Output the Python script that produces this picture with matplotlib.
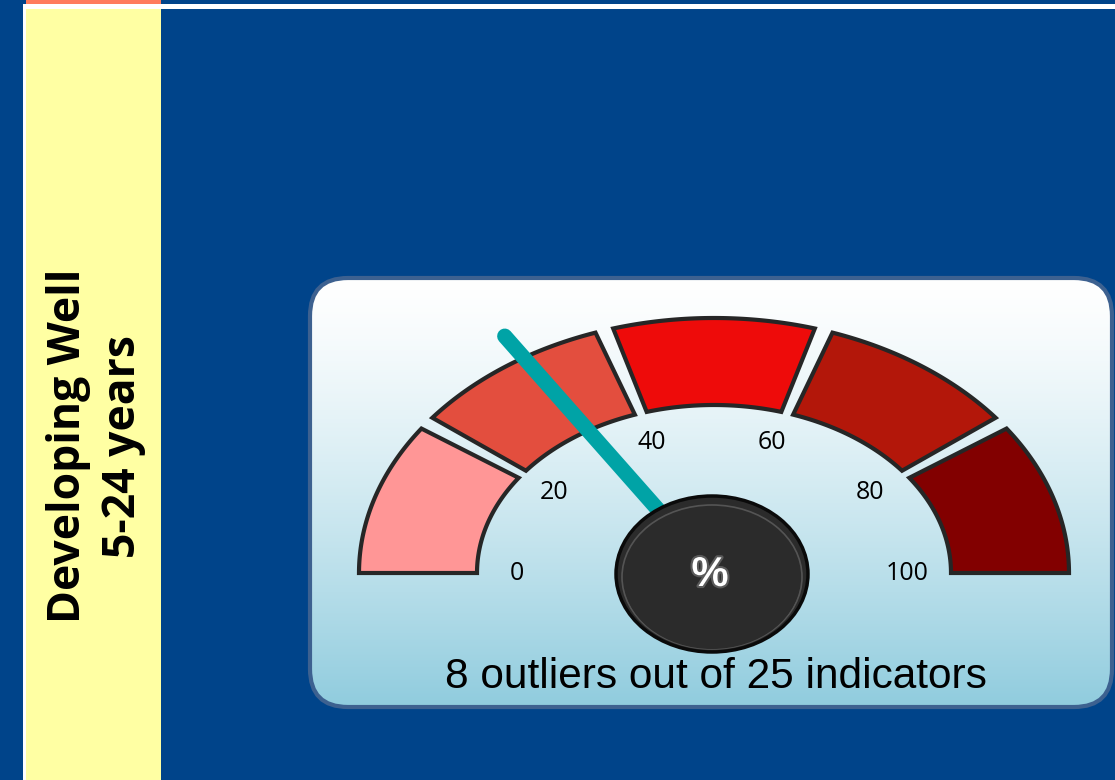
import numpy as np
import matplotlib
matplotlib.use("Agg")
import matplotlib.pyplot as plt
from matplotlib.patches import Polygon, Ellipse, FancyBboxPatch, Rectangle
import matplotlib.patheffects as pe

# data
outliers = 8
indicators = 25
band_edges = [0, 20, 40, 60, 80, 100]
band_colors = ['#FF9696', '#E34E3E', '#EE0B0A', '#B3170A', '#820000']
tick_values = [0, 20, 40, 60, 80, 100]
side_title = "Developing Well\n5-24 years"
caption = f"{outliers} outliers out of {indicators} indicators"

BLUE = '#00448A'
W, H = 1115, 780

fig = plt.figure(figsize=(W / 100, H / 100), dpi=100)
fig.patch.set_facecolor(BLUE)
ax = fig.add_axes([0, 0, 1, 1])
ax.set_facecolor(BLUE)

# frame strips
ax.add_patch(Rectangle((23, 4), W - 23, 5, color='white', lw=0))
ax.add_patch(Rectangle((23, 4), 3, H - 4, color='white', lw=0))
ax.add_patch(Rectangle((26, 0), 135, 4, color='#FF7B5C', lw=0))
ax.add_patch(Rectangle((26, 9), 135, H - 9, color='#FFFFA3', lw=0))
ax.text(96, 446, side_title, rotation=90, ha='center', va='center',
        multialignment='center', fontsize=32, fontweight='bold',
        family='Open Sans', color='black', linespacing=1.3)

# panel with gradient
px0, py0, px1, py1 = 310, 278, 1112, 707
panel = FancyBboxPatch((px0, py0), px1 - px0, py1 - py0,
                       boxstyle="round,pad=0,rounding_size=38",
                       fc='none', ec='#3D6190', lw=3, zorder=3)
ax.add_patch(panel)
top = np.array([1.0, 1.0, 1.0])
bot = np.array([0x90, 0xCC, 0xDE]) / 255
t = np.linspace(0, 1, 256)[:, None]
grad = (top[None, :] * (1 - t ** 1.3) + bot[None, :] * t ** 1.3)[:, None, :]
im = ax.imshow(grad, extent=(px0, px1, py1, py0), aspect='auto', zorder=2,
               interpolation='bilinear')
im.set_clip_path(panel)

# gauge
cx, cy = 714, 573
rx_out, ry_out = 355, 255
rx_in, ry_in = 237, 168
gap = np.radians(1.5)


def ang(v):
    return np.pi * (1 - v / 100)


for lo, hi, col in zip(band_edges[:-1], band_edges[1:], band_colors):
    a0 = ang(hi) + (gap if hi < 100 else 0)
    a1 = ang(lo) - (gap if lo > 0 else 0)
    th = np.linspace(a0, a1, 80)
    xo = cx + rx_out * np.cos(th)
    yo = cy - ry_out * np.sin(th)
    xi = cx + rx_in * np.cos(th[::-1])
    yi = cy - ry_in * np.sin(th[::-1])
    pts = np.column_stack([np.r_[xo, xi], np.r_[yo, yi]])
    ax.add_patch(Polygon(pts, closed=True, fc=col, ec='#262626', lw=3,
                         joinstyle='miter', zorder=4))

for v in tick_values:
    a = ang(v)
    ax.text(cx - 2 + 195 * np.cos(a), cy - 137 * np.sin(a), str(v),
            ha='center', va='center', fontsize=18, family='Open Sans',
            color='black', zorder=5)

# needle
pct = outliers / indicators * 100
a = ang(pct)
ax.plot([cx, cx + 1.1 * rx_out * np.cos(a)], [cy, cy - 1.1 * ry_out * np.sin(a)],
        color='#00A3A6', lw=11, solid_capstyle='round', zorder=6)

# hub
ax.add_patch(Ellipse((712, 574), 192, 156, fc='#2B2B2B', ec='#0A0A0A', lw=2.5, zorder=7))
ax.add_patch(Ellipse((712, 577), 180, 144, fc='none', ec='#707070', lw=1.2,
                     alpha=0.6, zorder=7))
ax.add_patch(Ellipse((712, 579), 176, 140, fc='#2B2B2B', ec='none', zorder=7))
ax.text(710, 575, '%', ha='center', va='center', fontsize=30, fontweight='bold',
        family='Liberation Sans', color='white', zorder=8,
        path_effects=[pe.withStroke(linewidth=3, foreground='#5A5A5A')])

ax.text(716, 677, caption, ha='center', va='center', fontsize=30.5,
        family='Liberation Sans', color='black', zorder=5)

ax.set_xlim(0, W)
ax.set_ylim(H, 0)
ax.axis('off')
fig.savefig('out.png', dpi=100, facecolor=BLUE)
